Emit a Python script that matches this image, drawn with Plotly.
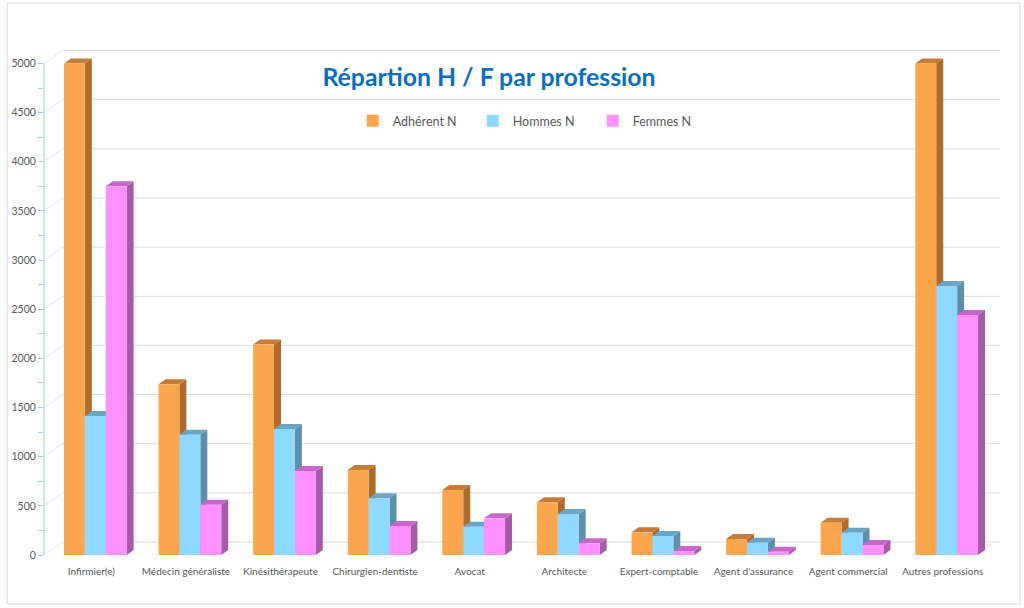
import numpy as np
import plotly.graph_objects as go

# ---------------- data ----------------
categories = ["Infirmier(e)", "Médecin généraliste", "Kinésithérapeute",
              "Chirurgien-dentiste", "Avocat", "Architecte", "Expert-comptable",
              "Agent d'assurance", "Agent commercial", "Autres professions"]
adherents = [5167, 1738, 2142, 865, 661, 536, 231, 163, 329, 5177]
hommes = [1415, 1224, 1283, 577, 288, 417, 193, 125, 227, 2736]
femmes = [3752, 511, 855, 295, 373, 119, 41, 34, 102, 2441]
series_names = ["Adhérent N", "Hommes N", "Femmes N"]
y_ticks = list(range(0, 5001, 500))
title_text = "Répartion H / F par profession"

# ---------------- styling / geometry ----------------
W, H = 1024, 608
ML, MR, MT, MB = 40, 34, 45, 53
PW, PH = W - ML - MR, H - MT - MB
PX_PER_UNIT = 0.0983
AXIS_MAX = 5000
Y_TOP = PH / PX_PER_UNIT
CAT_PX = PW / len(categories)

front_cols = ["#FBA54C", "#8FD8FF", "#FF90FF"]
side_cols = ["#AE6B2E", "#5E8FAA", "#A65BAA"]
top_cols = ["#C47C38", "#6BA4C4", "#C767C9"]

bw = 21 / CAT_PX
shift = 4 / CAT_PX
offsets = [-1.5 * bw + shift, -0.5 * bw + shift, 0.5 * bw + shift]
ddx = 7 / CAT_PX
ddy = 5 / PX_PER_UNIT
grid_dx = 19 / PW
grid_dy = 13 / PX_PER_UNIT

idx = np.arange(len(categories))
series = [adherents, hommes, femmes]

fig = go.Figure()
shapes = []

# back-wall gridlines with oblique connectors
for v in y_ticks:
    shapes.append(dict(type="line", xref="paper", yref="y", x0=grid_dx, x1=1 + 10 / PW,
                       y0=v + grid_dy, y1=v + grid_dy, layer="below",
                       line=dict(color="#DCDCDC", width=1)))
    shapes.append(dict(type="line", xref="paper", yref="y", x0=0, x1=grid_dx,
                       y0=v, y1=v + grid_dy, layer="below",
                       line=dict(color="#E4E4E4", width=1)))

for s, vals in enumerate(series):
    shown = np.minimum(np.array(vals, dtype=float), AXIS_MAX)
    fig.add_trace(go.Bar(
        x=idx, y=shown, width=bw, offset=offsets[s], name=series_names[s],
        customdata=vals, hovertemplate="%{customdata}<extra>" + series_names[s] + "</extra>",
        marker=dict(color=front_cols[s], line=dict(width=0)),
    ))
    for i, h in zip(idx, shown):
        x0 = i + offsets[s]
        x1 = x0 + bw
        # side face
        shapes.append(dict(type="path", xref="x", yref="y", layer="between",
                           path=f"M {x1},0 L {x1 + ddx},{ddy} L {x1 + ddx},{h + ddy} L {x1},{h} Z",
                           fillcolor=side_cols[s], line=dict(width=0)))
        # top face
        shapes.append(dict(type="path", xref="x", yref="y", layer="between",
                           path=f"M {x0},{h} L {x1},{h} L {x1 + ddx},{h + ddy} L {x0 + ddx},{h + ddy} Z",
                           fillcolor=top_cols[s], line=dict(width=0)))

# value axis line
shapes.append(dict(type="line", xref="paper", yref="y", x0=0, x1=0, y0=0, y1=AXIS_MAX,
                   line=dict(color="#A9C8E6", width=1)))
# outer chart border
shapes.append(dict(type="rect", xref="paper", yref="paper",
                   x0=(3 - ML) / PW, x1=(W - 4 - ML) / PW,
                   y0=-(H - 4 - (H - MB)) / PH, y1=(H - MB - 3) / PH,
                   line=dict(color="#D9D9D9", width=1), fillcolor="rgba(0,0,0,0)"))

fig.update_layout(
    width=W, height=H,
    margin=dict(l=ML, r=MR, t=MT, b=MB),
    paper_bgcolor="white", plot_bgcolor="white",
    font=dict(family="Lato, 'Open Sans', sans-serif", color="#595959"),
    barmode="overlay",
    shapes=shapes,
    title=dict(text="<b>" + title_text + "</b>", x=489 / W, xref="container", xanchor="center",
               y=1 - 77 / H, yref="container", yanchor="middle",
               font=dict(family="Lato, 'Open Sans', sans-serif", size=24.8, color="#0B6FBF")),
    legend=dict(orientation="h", x=(350 - ML) / PW, xanchor="left",
                y=(H - MB - 121) / PH, yanchor="middle",
                font=dict(size=12.5, color="#595959"), bgcolor="rgba(0,0,0,0)",
                itemwidth=30, entrywidth=75, entrywidthmode="pixels",
                traceorder="normal"),
    showlegend=True,
    xaxis=dict(range=[-0.5, len(categories) - 0.5], tickmode="array", tickvals=idx,
               ticktext=categories, showgrid=False, zeroline=False, showline=False,
               ticks="", tickfont=dict(size=10, color="#595959"), ticklabelstandoff=9,
               fixedrange=True),
    yaxis=dict(range=[0, Y_TOP], tickmode="array", tickvals=y_ticks, showgrid=False,
               zeroline=False, showline=False, ticks="outside", ticklen=5,
               tickcolor="#A9C8E6", tickfont=dict(size=10.5, color="#595959"),
               minor=dict(ticks="outside", ticklen=5, tick0=0, dtick=250, tickcolor="#A9C8E6",
                          showgrid=False),
               fixedrange=True),
)

fig.write_html("out.html",
               config={"displayModeBar": False},
               post_script="document.body.style.margin='0';document.body.style.padding='0';"
                           "document.body.style.overflow='hidden';")
